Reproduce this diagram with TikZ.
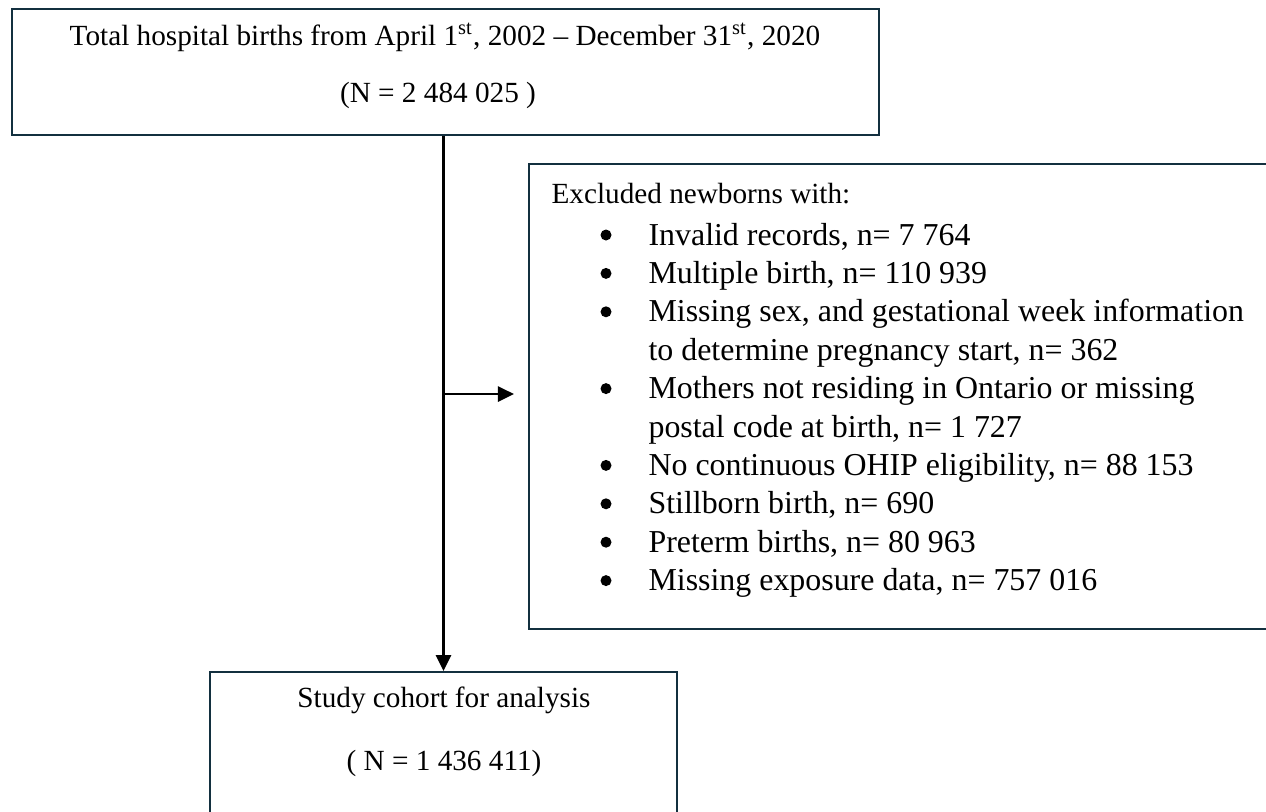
\documentclass[tikz,border=0pt]{standalone}
\usepackage{fontspec}
\setmainfont{Liberation Serif}
\usepackage{tikz}
\usetikzlibrary{arrows.meta,fit}

\definecolor{boxnavy}{HTML}{13303F}

\begin{document}
\begin{tikzpicture}[
		x=0.3636pt,
		y=-0.3636pt,
		every node/.style={font=\fontsize{10.63}{13}\selectfont},
		box/.style={draw=boxnavy, line width=0.75pt, inner sep=0pt},
		arrow/.style={line width=0.8pt, -{Triangle[length=5.8pt,width=5.5pt]}},
		item/.style={anchor=base west, inner sep=0pt, font=\fontsize{11.6}{14}\selectfont},
		dot/.style={circle, fill, inner sep=0pt, minimum size=4pt}
		]
		
		\def\ItemStep{38.4}
		
		% page frame, the exclusion box runs off the right edge
		\clip (0,0) rectangle (1266,811);
		
		% The three boxes.
		\node[box, fit={(12,9) (879,135)}] (total) {};
		\node[box, fit={(529,164) (1320,629)}] (excl) {};
		\node[box, fit={(210,672) (677,840)}] (cohort) {};
		
		% Texts of the top and bottom boxes.
		\node[anchor=base] (totalA) at (445,45)
		{Total hospital births from April 1\textsuperscript{st}, 2002 -- December 31\textsuperscript{st}, 2020};
		\node[anchor=base] (totalB) at (438,102) {(N = 2 484 025 )};
		\node[anchor=base] (cohortA) at (444,707) {Study cohort for analysis};
		\node[anchor=base] (cohortB) at (444,770) {( N = 1 436 411)};
		
		% Exclusion list.
		\node[anchor=base west, inner sep=0pt] (exclhead) at (551,203) {Excluded newborns with:};
		\foreach \bul/\txt [count=\i] in {
			1/{Invalid records, n= 7 764},
			1/{Multiple birth, n= 110 939},
			1/{Missing sex, and gestational week information},
			0/{to determine pregnancy start, n= 362},
			1/{Mothers not residing in Ontario or missing},
			0/{postal code at birth, n= 1 727},
			1/{No continuous OHIP eligibility, n= 88 153},
			1/{Stillborn birth, n= 690},
			1/{Preterm births, n= 80 963},
			1/{Missing exposure data, n= 757 016}} {
			\node[item] (item\i) at (648,{245+(\i-1)*\ItemStep}) {\txt};
			\ifnum\bul=1
			\node[dot] (bul\i) at (606,{235+(\i-1)*\ItemStep}) {};
			\fi
		}
		
		% Connectors.
		\draw[arrow] (total.south -| cohort.north) -- (cohort.north);
		\draw[arrow] ([yshift=0.9pt]cohort.north |- excl.west) -- ([xshift=-5.1pt,yshift=0.9pt]excl.west);
		
	\end{tikzpicture}
\end{document}
